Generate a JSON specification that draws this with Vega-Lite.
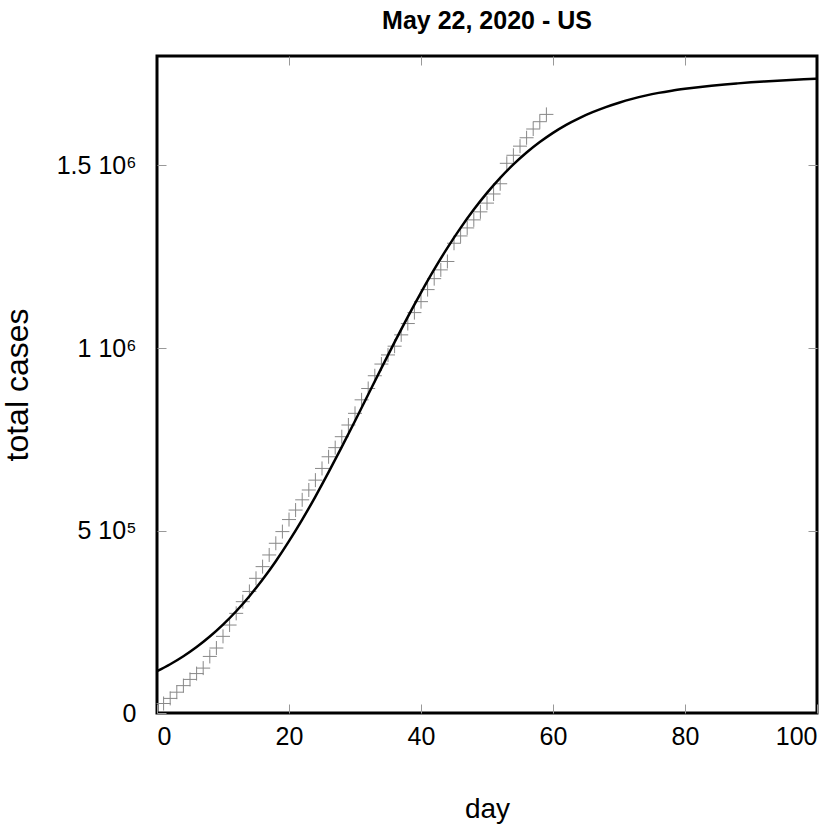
{
  "$schema": "https://vega.github.io/schema/vega-lite/v6.json",
  "width": 660,
  "height": 657,
  "autosize": {"type": "none"},
  "padding": {"left": 157, "top": 56, "right": 18, "bottom": 117},
  "background": "white",
  "title": {"text": "May 22, 2020 - US", "font": "Liberation Sans", "fontSize": 25, "fontWeight": "bold", "color": "black", "offset": 22},
  "config": {
    "view": {"stroke": "black", "strokeWidth": 3},
    "axis": {"domain": false, "grid": false, "labelFont": "Liberation Sans", "labelFontSize": 25, "labelColor": "black", "tickColor": "#999999", "tickWidth": 1, "titleColor": "black", "titleFontWeight": "normal"}
  },
  "datasets": {
    "obs": [
      {"day": 1, "cases": 26000}, {"day": 2, "cases": 40000}, {"day": 3, "cases": 57000}, {"day": 4, "cases": 75000},
      {"day": 5, "cases": 92000}, {"day": 6, "cases": 108000}, {"day": 7, "cases": 123000}, {"day": 8, "cases": 155000},
      {"day": 9, "cases": 178000}, {"day": 10, "cases": 210000}, {"day": 11, "cases": 241000}, {"day": 12, "cases": 273000},
      {"day": 13, "cases": 305000}, {"day": 14, "cases": 333000}, {"day": 15, "cases": 369000}, {"day": 16, "cases": 401000},
      {"day": 17, "cases": 433000}, {"day": 18, "cases": 465000}, {"day": 19, "cases": 497000}, {"day": 20, "cases": 530000},
      {"day": 21, "cases": 556000}, {"day": 22, "cases": 584000}, {"day": 23, "cases": 611000}, {"day": 24, "cases": 638000},
      {"day": 25, "cases": 670000}, {"day": 26, "cases": 702000}, {"day": 27, "cases": 727000}, {"day": 28, "cases": 757000},
      {"day": 29, "cases": 789000}, {"day": 30, "cases": 821000}, {"day": 31, "cases": 858000}, {"day": 32, "cases": 889000},
      {"day": 33, "cases": 924000}, {"day": 34, "cases": 956000}, {"day": 35, "cases": 981000}, {"day": 36, "cases": 1005000},
      {"day": 37, "cases": 1036000}, {"day": 38, "cases": 1067000}, {"day": 39, "cases": 1097000}, {"day": 40, "cases": 1127000},
      {"day": 41, "cases": 1160000}, {"day": 42, "cases": 1190000}, {"day": 43, "cases": 1214000}, {"day": 44, "cases": 1237000},
      {"day": 45, "cases": 1287000}, {"day": 46, "cases": 1307000}, {"day": 47, "cases": 1329000}, {"day": 48, "cases": 1351000},
      {"day": 49, "cases": 1373000}, {"day": 50, "cases": 1397000}, {"day": 51, "cases": 1422000}, {"day": 52, "cases": 1450000},
      {"day": 53, "cases": 1506000}, {"day": 54, "cases": 1528000}, {"day": 55, "cases": 1553000}, {"day": 56, "cases": 1576000},
      {"day": 57, "cases": 1600000}, {"day": 58, "cases": 1620000}, {"day": 59, "cases": 1640000}
    ],
    "fit": [
      {"day": 0, "cases": 114500}, {"day": 2, "cases": 133600}, {"day": 4, "cases": 155500}, {"day": 6, "cases": 180800},
      {"day": 8, "cases": 209500}, {"day": 10, "cases": 242100}, {"day": 12, "cases": 278800}, {"day": 14, "cases": 319900},
      {"day": 16, "cases": 365600}, {"day": 18, "cases": 415900}, {"day": 20, "cases": 470700}, {"day": 22, "cases": 529900},
      {"day": 24, "cases": 592900}, {"day": 26, "cases": 659700}, {"day": 28, "cases": 728900}, {"day": 30, "cases": 800100},
      {"day": 32, "cases": 872500}, {"day": 34, "cases": 944800}, {"day": 36, "cases": 1016000}, {"day": 38, "cases": 1085400},
      {"day": 40, "cases": 1151900}, {"day": 42, "cases": 1215200}, {"day": 44, "cases": 1274500}, {"day": 46, "cases": 1329200},
      {"day": 48, "cases": 1379400}, {"day": 50, "cases": 1425100}, {"day": 52, "cases": 1466300}, {"day": 54, "cases": 1503000},
      {"day": 56, "cases": 1535600}, {"day": 58, "cases": 1564200}, {"day": 60, "cases": 1589400}, {"day": 62, "cases": 1611400},
      {"day": 64, "cases": 1630000}, {"day": 66, "cases": 1646000}, {"day": 68, "cases": 1660000}, {"day": 70, "cases": 1672000},
      {"day": 72, "cases": 1682500}, {"day": 74, "cases": 1691500}, {"day": 76, "cases": 1699000}, {"day": 78, "cases": 1705000},
      {"day": 80, "cases": 1710000}, {"day": 82, "cases": 1714500}, {"day": 84, "cases": 1718500}, {"day": 86, "cases": 1722000},
      {"day": 88, "cases": 1725000}, {"day": 90, "cases": 1727800}, {"day": 92, "cases": 1730200}, {"day": 94, "cases": 1732400},
      {"day": 96, "cases": 1734400}, {"day": 98, "cases": 1736200}, {"day": 100, "cases": 1737800}
    ]
  },
  "layer": [
    {
      "data": {"name": "obs"},
      "mark": {"type": "point", "shape": "M-1,0H1M0,-1V1", "size": 196, "filled": false, "stroke": "#888888", "strokeWidth": 1, "opacity": 1},
      "encoding": {
        "x": {"field": "day", "type": "quantitative", "scale": {"domain": [0, 100], "nice": false},
              "axis": {"orient": "bottom", "values": [0, 20, 40, 60, 80, 100], "tickSize": -9, "labelPadding": 20, "title": "day", "titleFont": "Liberation Sans", "titleFontSize": 28, "titlePadding": 46}},
        "y": {"field": "cases", "type": "quantitative", "scale": {"domain": [0, 1800000], "nice": false},
              "axis": {"orient": "left", "values": [0, 500000, 1000000, 1500000], "tickSize": -9, "labelPadding": 30,
                       "labelExpr": "datum.value == 0 ? '0' : datum.value == 500000 ? '5 10⁵' : datum.value == 1000000 ? '1 10⁶' : '1.5 10⁶'",
                       "title": "total cases", "titleFont": "Liberation Sans", "titleFontSize": 32, "titlePadding": 22}}
      }
    },
    {
      "data": {"name": "fit"},
      "mark": {"type": "line", "color": "black", "strokeWidth": 2.5, "interpolate": "monotone"},
      "encoding": {
        "x": {"field": "day", "type": "quantitative", "axis": {"orient": "top", "values": [20, 40, 60, 80], "tickSize": -9, "labels": false, "title": null}},
        "y": {"field": "cases", "type": "quantitative", "axis": {"orient": "right", "values": [500000, 1000000, 1500000], "tickSize": -9, "labels": false, "title": null}}
      }
    }
  ],
  "resolve": {"axis": {"x": "independent", "y": "independent"}}
}
